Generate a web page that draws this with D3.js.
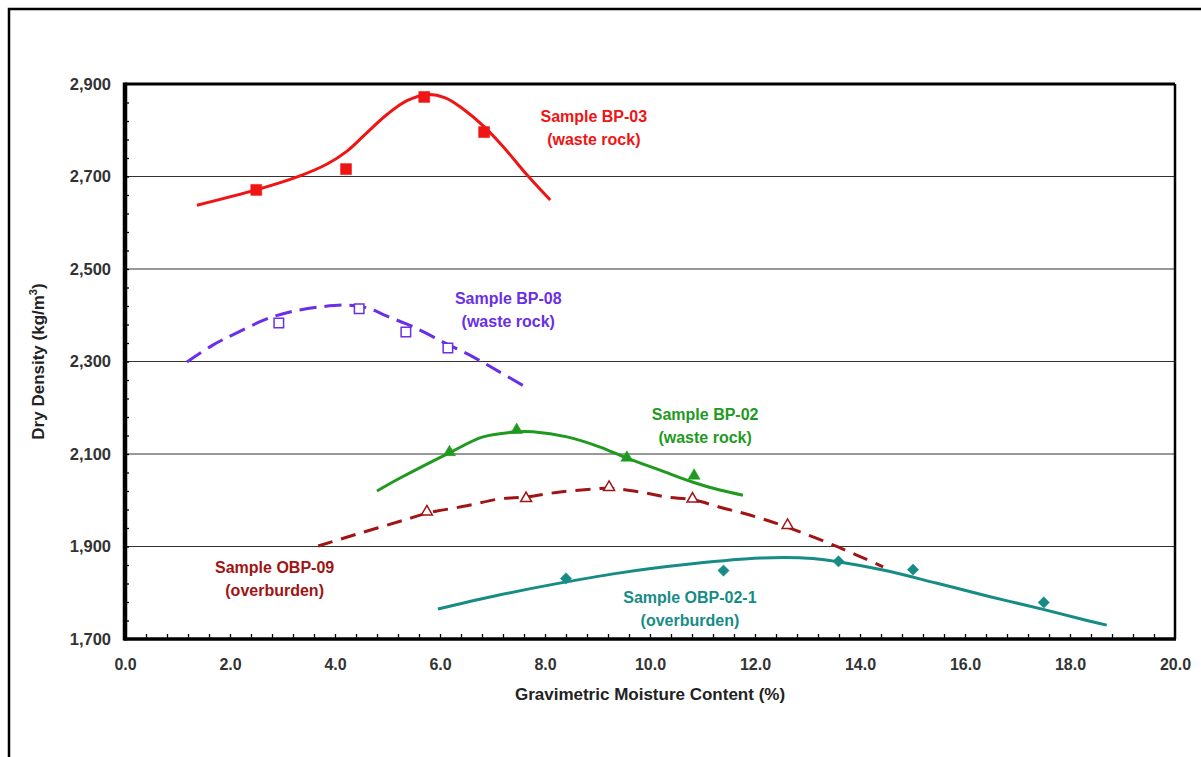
<!DOCTYPE html>
<html>
<head>
<meta charset="utf-8">
<script src="https://cdn.jsdelivr.net/npm/d3@7"></script>
<style>
  html, body { margin: 0; padding: 0; background: #fff; }
  svg { display: block; }
  text { font-family: "Liberation Sans", Arial, sans-serif; font-weight: bold; }
</style>
</head>
<body>
<svg id="chart" width="1201" height="757"></svg>
<script>
// ---------- data ----------
const xTickValues = [0, 2, 4, 6, 8, 10, 12, 14, 16, 18, 20];
const yTickValues = [1700, 1900, 2100, 2300, 2500, 2700, 2900];

// Sample BP-03 (waste rock) – measured points
const bp03X = [2.50, 4.21, 5.70, 6.84];
const bp03Y = [2671, 2716, 2872, 2796];
// fitted curve
const bp03CurveX = [1.37, 2.50, 3.28, 3.85, 4.23, 4.61, 4.99, 5.37, 5.75, 6.10, 6.44, 6.84, 7.20, 7.66, 8.10];
const bp03CurveY = [2638, 2671, 2699, 2727, 2755, 2795, 2834, 2864, 2877, 2870, 2846, 2808, 2765, 2703, 2649];

// Sample BP-08 (waste rock)
const bp08X = [2.93, 4.46, 5.35, 6.15];
const bp08Y = [2383, 2414, 2364, 2329];
const bp08CurveX = [1.18, 1.68, 2.13, 2.70, 3.14, 3.71, 4.23, 4.61, 4.99, 5.49, 6.06, 6.63, 7.14, 7.66];
const bp08CurveY = [2299, 2336, 2362, 2392, 2407, 2418, 2422, 2416, 2398, 2375, 2342, 2310, 2277, 2243];

// Sample BP-02 (waste rock)
const bp02X = [6.18, 7.46, 9.56, 10.84];
const bp02Y = [2104, 2152, 2092, 2053];
const bp02CurveX = [4.80, 5.24, 6.17, 6.82, 7.47, 7.77, 8.42, 9.05, 9.56, 10.19, 10.82, 11.33, 11.77];
const bp02CurveY = [2020, 2048, 2102, 2137, 2148, 2148, 2137, 2115, 2091, 2065, 2039, 2022, 2011];

// Sample OBP-09 (overburden)
const obp09X = [5.75, 7.64, 9.22, 10.81, 12.62];
const obp09Y = [1975, 2004, 2028, 2003, 1946];
const obp09CurveX = [3.68, 4.48, 5.37, 5.75, 6.51, 7.14, 7.64, 8.29, 8.91, 9.22, 9.81, 10.32, 10.82, 11.33, 11.90, 12.61, 13.58, 14.44];
const obp09CurveY = [1901, 1929, 1959, 1972, 1988, 2003, 2007, 2018, 2024, 2026, 2018, 2007, 2001, 1985, 1968, 1942, 1899, 1856];

// Sample OBP-02-1 (overburden)
const obp021X = [8.40, 11.40, 13.59, 15.01, 17.50];
const obp021Y = [1831, 1848, 1868, 1850, 1779];
const obp021CurveX = [5.96, 7.00, 8.10, 9.43, 10.76, 12.10, 13.10, 13.58, 14.44, 15.45, 16.46, 17.49, 18.25, 18.70];
const obp021CurveY = [1765, 1792, 1817, 1843, 1862, 1875, 1874, 1867, 1849, 1821, 1792, 1764, 1742, 1730];

const labelLines = [
  ["Sample BP-03", "(waste rock)"],
  ["Sample BP-08", "(waste rock)"],
  ["Sample BP-02", "(waste rock)"],
  ["Sample OBP-09", "(overburden)"],
  ["Sample OBP-02-1", "(overburden)"]
];
// label anchor positions in data units
const labelX = [8.93, 7.3, 11.05, 2.85, 10.76];
const labelY = [2818, 2424, 2173, 1843, 1778];

// ---------- layout ----------
const svg = d3.select("#chart");
const mLeft = 125, mRight = 1175, mTop = 84, mBottom = 639;

const x = d3.scaleLinear().domain([0, 20]).range([mLeft, mRight]);
const y = d3.scaleLinear().domain([1700, 2900]).range([mBottom, mTop]);

// outer frame
svg.append("path")
  .attr("d", `M9,${757 + 5} L9,9 L${1201 + 5},9`)
  .attr("fill", "none").attr("stroke", "#000").attr("stroke-width", 2.5);

// gridlines
svg.append("g").selectAll("line")
  .data(yTickValues.filter(v => v > 1700 && v < 2900))
  .join("line")
  .attr("x1", mLeft).attr("x2", mRight)
  .attr("y1", d => y(d)).attr("y2", d => y(d))
  .attr("stroke", "#333").attr("stroke-width", 1.2);

// minor ticks
const xMinor = d3.range(1, 50).map(i => i * 0.4);
const yMinor = d3.range(1, 30).map(i => 1700 + i * 40);

const xMinorAxis = svg.append("g")
  .attr("transform", `translate(0,${mBottom})`)
  .call(d3.axisBottom(x).tickValues(xMinor).tickSize(-5).tickFormat(""));
xMinorAxis.select(".domain").remove();
xMinorAxis.selectAll("line").attr("stroke", "#000").attr("stroke-width", 1.3);

const yMinorAxis = svg.append("g")
  .attr("transform", `translate(${mLeft},0)`)
  .call(d3.axisLeft(y).tickValues(yMinor).tickSize(-4).tickFormat(""));
yMinorAxis.select(".domain").remove();
yMinorAxis.selectAll("line").attr("stroke", "#000").attr("stroke-width", 1.3);

// plot frame
svg.append("line").attr("x1", mLeft).attr("x2", mRight).attr("y1", mTop).attr("y2", mTop)
  .attr("stroke", "#000").attr("stroke-width", 3);
svg.append("line").attr("x1", mRight).attr("x2", mRight).attr("y1", mTop).attr("y2", mBottom)
  .attr("stroke", "#000").attr("stroke-width", 2.5);
svg.append("line").attr("x1", mLeft - 1).attr("x2", mRight + 1).attr("y1", mBottom).attr("y2", mBottom)
  .attr("stroke", "#000").attr("stroke-width", 3.5);
svg.append("line").attr("x1", mLeft).attr("x2", mLeft).attr("y1", mTop - 1.5).attr("y2", mBottom + 1.5)
  .attr("stroke", "#000").attr("stroke-width", 4.5);

// tick labels
const xAxis = svg.append("g")
  .attr("transform", `translate(0,${mBottom})`)
  .call(d3.axisBottom(x).tickValues(xTickValues).tickSize(0).tickPadding(20).tickFormat(d3.format(".1f")));
xAxis.select(".domain").remove();
xAxis.selectAll("text").attr("font-size", 16).attr("fill", "#333")
  .style("font-family", '"Liberation Sans", Arial, sans-serif').style("font-weight", "bold");

const yAxis = svg.append("g")
  .attr("transform", `translate(${mLeft},0)`)
  .call(d3.axisLeft(y).tickValues(yTickValues).tickSize(0).tickPadding(14).tickFormat(d3.format(",")));
yAxis.select(".domain").remove();
yAxis.selectAll("text").attr("font-size", 16.5).attr("fill", "#333")
  .style("font-family", '"Liberation Sans", Arial, sans-serif').style("font-weight", "bold");

// axis titles
svg.append("text")
  .attr("x", (mLeft + mRight) / 2).attr("y", 700)
  .attr("text-anchor", "middle").attr("font-size", 17).attr("fill", "#222")
  .text("Gravimetric Moisture Content (%)");

const yt = svg.append("text")
  .attr("transform", `translate(44,${(mTop + mBottom) / 2}) rotate(-90)`)
  .attr("text-anchor", "middle").attr("font-size", 17).attr("fill", "#222");
yt.append("tspan").text("Dry Density (kg/m");
yt.append("tspan").attr("font-size", 11).attr("dy", -7).text("3");
yt.append("tspan").attr("dy", 7).text(")");

// ---------- series ----------
const series = [
  { cx: bp03CurveX, cy: bp03CurveY, px: bp03X, py: bp03Y, color: "#f01414", dash: null, sym: d3.symbolSquare, fill: true, size: 121, rot: 0 },
  { cx: bp08CurveX, cy: bp08CurveY, px: bp08X, py: bp08Y, color: "#6a2fe6", dash: "17,8", sym: d3.symbolSquare, fill: false, size: 90, rot: 0 },
  { cx: bp02CurveX, cy: bp02CurveY, px: bp02X, py: bp02Y, color: "#1f9a1f", dash: null, sym: d3.symbolTriangle, fill: true, size: 64, rot: 0 },
  { cx: obp09CurveX, cy: obp09CurveY, px: obp09X, py: obp09Y, color: "#a01414", dash: "15,9", sym: d3.symbolTriangle, fill: false, size: 52, rot: 0 },
  { cx: obp021CurveX, cy: obp021CurveY, px: obp021X, py: obp021Y, color: "#178c86", dash: null, sym: d3.symbolSquare, fill: true, size: 64, rot: 45 }
];

const line = d3.line().x(d => x(d[0])).y(d => y(d[1])).curve(d3.curveCatmullRom.alpha(0.5));

series.forEach((s, i) => {
  const pts = s.cx.map((v, j) => [v, s.cy[j]]);
  svg.append("path")
    .attr("d", line(pts))
    .attr("fill", "none")
    .attr("stroke", s.color)
    .attr("stroke-width", 3)
    .attr("stroke-dasharray", s.dash);

  svg.append("g").selectAll("path")
    .data(s.px.map((v, j) => [v, s.py[j]]))
    .join("path")
    .attr("transform", d => `translate(${x(d[0])},${y(d[1])}) rotate(${s.rot})`)
    .attr("d", d3.symbol().type(s.sym).size(s.size))
    .attr("fill", s.fill ? s.color : "#fff")
    .attr("stroke", s.color)
    .attr("stroke-width", s.fill ? 0.5 : 1.5);

  const t = svg.append("text")
    .attr("text-anchor", "middle")
    .attr("font-size", 16)
    .attr("fill", s.color);
  labelLines[i].forEach((txt, k) => {
    t.append("tspan")
      .attr("x", x(labelX[i]))
      .attr("y", y(labelY[i]) + k * 23)
      .text(txt);
  });
});
</script>
</body>
</html>
